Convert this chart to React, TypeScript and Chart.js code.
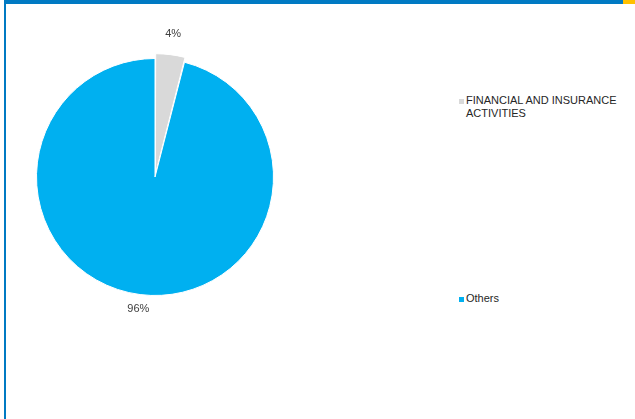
import React, { useEffect, useRef } from "react";
import { Chart, registerables } from "chart.js";

Chart.register(...registerables);

const categories = ["FINANCIAL AND INSURANCE ACTIVITIES", "Others"];
const values = [4, 96];
const colors = ["#D9D9D9", "#00B0F0"];
const offsets = [11, 0];

const FONT = '"Liberation Sans", Arial, sans-serif';

const labelPlugin = {
  id: "outerLabels",
  afterDatasetsDraw(chart: any) {
    const ctx = chart.ctx;
    const meta = chart.getDatasetMeta(0);
    const total = values.reduce((a, b) => a + b, 0);
    ctx.save();
    ctx.font = "11px " + FONT;
    ctx.fillStyle = "#404040";
    ctx.textAlign = "center";
    ctx.textBaseline = "middle";
    meta.data.forEach((el: any, i: number) => {
      const p = el.getProps(["x", "y", "startAngle", "endAngle", "outerRadius"], true);
      const mid = (p.startAngle + p.endAngle) / 2;
      const r = p.outerRadius + offsets[i] + 15;
      const txt = Math.round((values[i] / total) * 100) + "%";
      ctx.fillText(txt, p.x + Math.cos(mid) * r, p.y + Math.sin(mid) * r);
    });
    ctx.restore();
  },
};

export default function App() {
  const ref = useRef<HTMLCanvasElement | null>(null);

  useEffect(() => {
    if (!ref.current) return;
    const chart = new Chart(ref.current, {
      type: "pie",
      data: {
        labels: categories,
        datasets: [
          {
            data: values,
            backgroundColor: colors,
            borderColor: "#FFFFFF",
            borderWidth: 1,
            offset: offsets,
          },
        ],
      },
      options: {
        responsive: false,
        animation: false,
        radius: 118.5,
        layout: { padding: 0 },
        plugins: {
          legend: { display: false },
          tooltip: { enabled: false },
        },
      } as any,
      plugins: [labelPlugin],
    });
    return () => chart.destroy();
  }, []);

  const legendTops = [94.3, 292];

  return (
    <div
      style={{
        position: "absolute",
        left: 0,
        top: 0,
        width: 635,
        height: 419,
        background: "#FFFFFF",
        overflow: "hidden",
        fontFamily: FONT,
      }}
    >
      <div style={{ position: "absolute", left: 4, top: 0, width: 619, height: 4, background: "#007AC3" }} />
      <div style={{ position: "absolute", left: 623, top: 0, width: 12, height: 4, background: "#FFC000" }} />
      <div style={{ position: "absolute", left: 4, top: 0, width: 2, height: 419, background: "#007AC3" }} />
      <canvas
        ref={ref}
        width={300}
        height={300}
        style={{ position: "absolute", left: 5, top: 27, width: 300, height: 300 }}
      />
      {categories.map((c, i) => (
        <div
          key={c}
          style={{
            position: "absolute",
            left: 459,
            top: legendTops[i],
            width: 170,
            display: "flex",
            alignItems: "flex-start",
            fontSize: 11,
            lineHeight: "12.5px",
            color: "#262626",
          }}
        >
          <span
            style={{
              display: "inline-block",
              width: 5,
              height: 5,
              background: colors[i],
              marginTop: 4.5,
              marginRight: 2,
              flex: "0 0 auto",
            }}
          />
          <span style={{ width: 160 }}>{c}</span>
        </div>
      ))}
    </div>
  );
}
